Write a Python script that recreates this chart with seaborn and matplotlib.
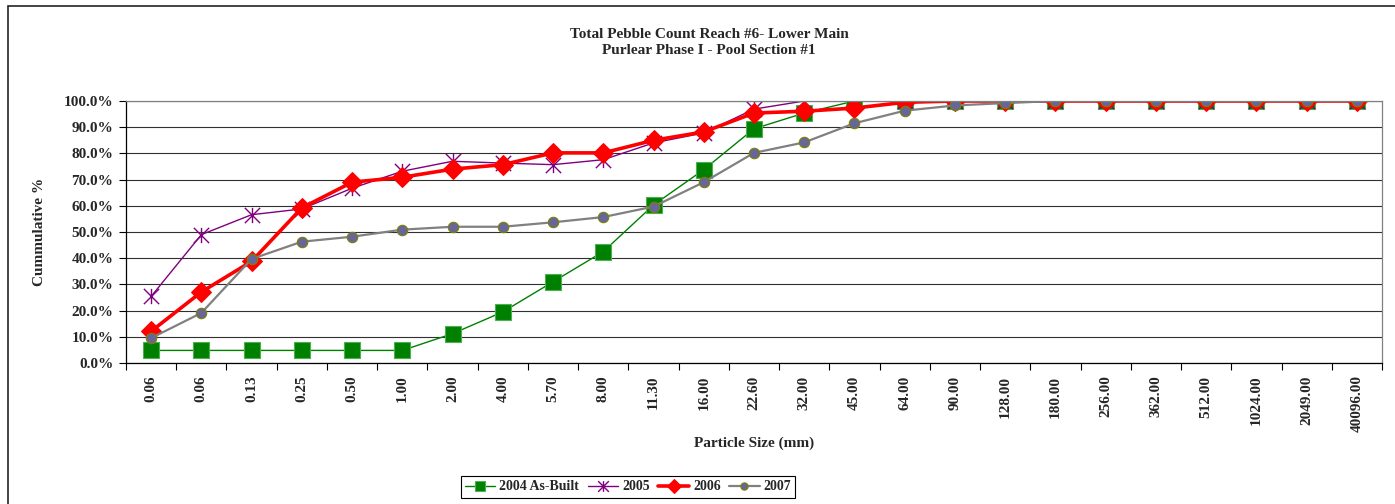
import matplotlib.pyplot as plt
import numpy as np
import pandas as pd
import seaborn as sns
from matplotlib.path import Path
from matplotlib.patches import Rectangle
from matplotlib.ticker import FixedLocator

sizes = ["0.06", "0.06", "0.13", "0.25", "0.50", "1.00", "2.00", "4.00", "5.70",
         "8.00", "11.30", "16.00", "22.60", "32.00", "45.00", "64.00", "90.00",
         "128.00", "180.00", "256.00", "362.00", "512.00", "1024.00", "2049.00",
         "40096.00"]

as_built_2004 = [4.8, 4.8, 4.8, 4.8, 4.8, 4.8, 11.2, 19.5, 31.0, 42.5, 60.3, 73.8,
                 89.4, 95.4, 100, 100, 100, 100, 100, 100, 100, 100, 100, 100, 100]
y2005 = [25.4, 49.0, 56.6, 58.8, 66.7, 73.2, 77.0, 76.3, 75.7, 77.6, 84.0, 87.8,
         96.9, 100, 100, 100, 100, 100, 100, 100, 100, 100, 100, 100, 100]
y2006 = [12.1, 27.1, 38.8, 59.2, 69.0, 70.9, 74.0, 75.7, 80.2, 80.2, 85.0, 88.2,
         95.4, 96.1, 97.3, 99.5, 100, 100, 100, 100, 100, 100, 100, 100, 100]
y2007 = [9.5, 19.1, 39.7, 46.3, 48.2, 50.9, 52.0, 52.0, 53.7, 55.7, 59.7, 69.0,
         80.2, 84.2, 91.5, 96.3, 98.3, 99.2, 100, 100, 100, 100, 100, 100, 100]

sns.set_theme(style="white")
plt.rcParams["font.family"] = ["Liberation Serif", "DejaVu Serif"]
plt.rcParams["font.weight"] = "bold"

W, H = 1395, 504
fig = plt.figure(figsize=(W / 100, H / 100), dpi=100)
ax = fig.add_axes([126 / W, 1 - 363 / H, (1382 - 126) / W, (363 - 101) / H])

pos = np.arange(len(sizes))

# Excel-style star: X plus a vertical bar
star = Path([(0, -1), (0, 1), (-1, -1), (1, 1), (-1, 1), (1, -1)],
            [Path.MOVETO, Path.LINETO, Path.MOVETO, Path.LINETO, Path.MOVETO, Path.LINETO])

sns.lineplot(x=pos, y=as_built_2004, ax=ax, estimator=None, color="#008000", lw=1.0,
             marker="s", markersize=11, markerfacecolor="#008000",
             markeredgecolor="#4caf50", markeredgewidth=0.8, label="2004 As-Built")
sns.lineplot(x=pos, y=y2005, ax=ax, estimator=None, color="#800080", lw=1.0,
             marker=star, markersize=11, markerfacecolor="none",
             markeredgecolor="#800080", markeredgewidth=1.0, label="2005")
sns.lineplot(x=pos, y=y2006, ax=ax, estimator=None, color="#ff0000", lw=2.6,
             marker="D", markersize=10, markerfacecolor="#ff0000",
             markeredgecolor="#ff0000", label="2006")
sns.lineplot(x=pos, y=y2007, ax=ax, estimator=None, color="#808080", lw=1.6,
             marker="o", markersize=7.5, markerfacecolor="#666699",
             markeredgecolor="#808000", markeredgewidth=0.8, label="2007")

ax.set_xlim(-0.5, len(sizes) - 0.5)
ax.set_ylim(0, 100)

# y axis
yt = np.arange(0, 101, 10)
ax.set_yticks(yt)
ax.set_yticklabels([f"{v:.1f}%" for v in yt], fontsize=11, fontweight="bold")
ax.yaxis.grid(True, color="#303030", lw=0.8)
ax.tick_params(axis="y", which="major", left=True, length=5, width=0.8,
               color="black", pad=4)

# x axis: labels at centers, ticks between categories
ax.set_xticks(pos)
ax.set_xticklabels(sizes, rotation=90, fontsize=11, fontweight="bold")
ax.xaxis.set_minor_locator(FixedLocator(np.arange(-0.5, len(sizes), 1)))
ax.tick_params(axis="x", which="major", length=0, pad=9)
ax.tick_params(axis="x", which="minor", bottom=True, length=5, width=0.8, color="black")

for side in ["left", "bottom"]:
    ax.spines[side].set_color("black")
    ax.spines[side].set_linewidth(0.9)
for side in ["right", "top"]:
    ax.spines[side].set_color("#808080")
    ax.spines[side].set_linewidth(0.9)

ax.set_xlabel("Particle Size (mm)", fontsize=11, fontweight="bold", labelpad=3)
ax.set_ylabel("Cummulative %", fontsize=11, fontweight="bold", labelpad=13)

fig.text(709 / W, 1 - 34 / H, "Total Pebble Count Reach #6- Lower Main",
         ha="center", va="center", fontsize=11, fontweight="bold")
fig.text(709 / W, 1 - 51 / H, "Purlear Phase I - Pool Section #1",
         ha="center", va="center", fontsize=11, fontweight="bold")

handles, labels = ax.get_legend_handles_labels()
ax.get_legend().remove()
leg = fig.legend(handles, labels, loc="center", bbox_to_anchor=(628 / W, 1 - 487 / H),
                 ncol=4, frameon=True, fancybox=False, edgecolor="black",
                 framealpha=1, prop={"weight": "bold", "size": 10},
                 handlelength=2.2, handletextpad=0.3, columnspacing=0.6,
                 borderpad=0.3, markerscale=0.7)
leg.get_frame().set_linewidth(0.8)

# outer chart-area border
fig.add_artist(Rectangle((8 / W, -0.2), 1.2, 1.2 - 6 / H, transform=fig.transFigure,
                         fill=False, edgecolor="#222222", lw=1.2))

fig.savefig("out.png", dpi=100)
